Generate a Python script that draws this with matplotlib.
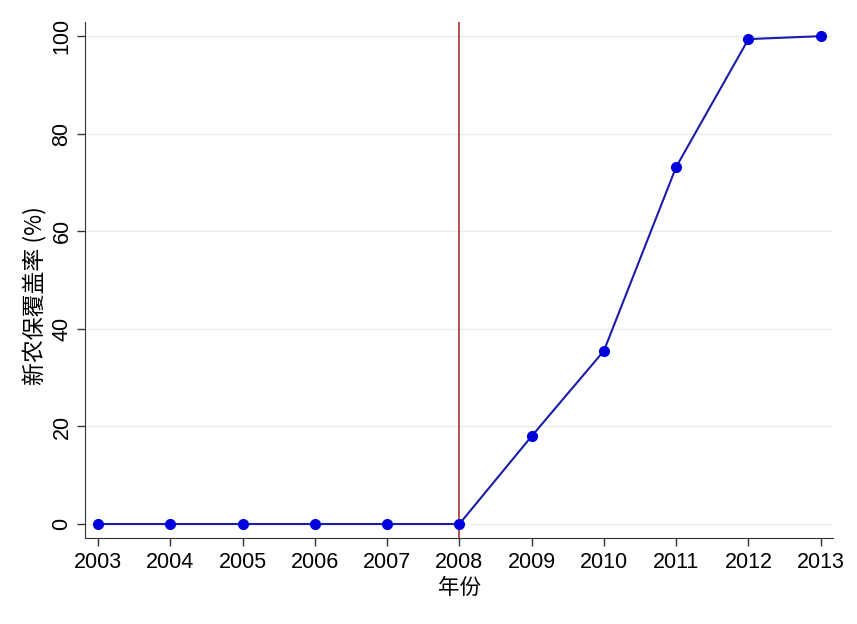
import matplotlib.pyplot as plt

plt.rcParams['font.family'] = ['Liberation Sans', 'Noto Sans CJK SC', 'DejaVu Sans']

# 数据
years = [2003, 2004, 2005, 2006, 2007, 2008, 2009, 2010, 2011, 2012, 2013]
coverage = [0, 0, 0, 0, 0, 0, 18.0, 35.5, 73.2, 99.4, 100.0]
policy_year = 2008
y_ticks = [0, 20, 40, 60, 80, 100]

fig = plt.figure(figsize=(8.57, 6.24), dpi=100)
ax = fig.add_axes([0.0992, 0.1378, 0.8728, 0.8269])

ax.axvline(policy_year, color='#a83232', linewidth=1.2, zorder=2)
ax.plot(years, coverage, color='#1c1caa', linewidth=1.5, marker='o',
        markersize=7, markerfacecolor='#0000dd', markeredgecolor='#0000dd', zorder=3)

ax.set_xlim(2002.82, 2013.17)
ax.set_ylim(-2.87, 102.9)
ax.set_xticks(years)
ax.set_yticks(y_ticks)
ax.tick_params(axis='both', labelsize=15.5, length=6, width=1, color='#333333')
ax.tick_params(axis='y', pad=3)
ax.tick_params(axis='x', pad=4)
for lab in ax.get_yticklabels():
    lab.set_rotation(90)
    lab.set_va('center')

ax.grid(axis='y', color='#e6ecef', linewidth=1)
ax.set_axisbelow(True)
for s in ['top', 'right']:
    ax.spines[s].set_visible(False)
for s in ['left', 'bottom']:
    ax.spines[s].set_color('#333333')

ax.set_xlabel('年份', fontsize=15.5, family=['Noto Sans CJK SC'], labelpad=3)
ax.set_ylabel('新农保覆盖率 (%)', fontsize=16.5, family=['Noto Sans CJK SC', 'DejaVu Sans'], labelpad=0)
ax.yaxis.set_label_coords(-0.05, 0.47)

fig.savefig('out.png', dpi=100)
